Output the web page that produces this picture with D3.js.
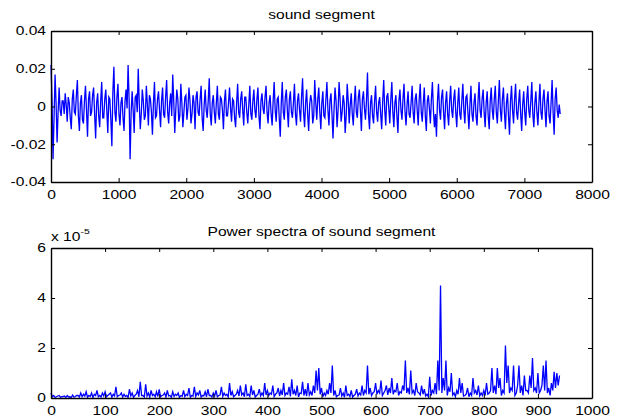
<!DOCTYPE html>
<html>
<head>
<meta charset="utf-8">
<script src="https://cdn.jsdelivr.net/npm/d3@7"></script>
<style>
body { margin: 0; background: #fff; }
svg { display: block; font-family: "Liberation Sans", Arial, sans-serif; }
.axis path { stroke: #000; stroke-width: 1.4; }
.axis line { stroke: #000; }
.axis text { font-size: 12px; fill: #000; }
.title { font-size: 12px; fill: #000; text-anchor: middle; }
</style>
</head>
<body>
<div id="chart-area"></div>
<script>

// sound segment, one value every 15 samples, in units of 1e-3
let soundStep = 15;
let soundSegment = [
	22,4,-28,-6,17,2,-19,-3,10,-2,-5,3,3,-4,7,1,-8,5,2,-6,-12,4,9,-3,-4,6,14,-5,-13,2,6,-7,-9,3,11,-2,-16,4,8,-5,
	-3,6,10,-4,-17,2,7,-5,-11,3,13,-6,-6,4,9,-2,-14,5,4,-7,-21,8,21,-3,-8,5,12,-4,-10,2,5,-6,-13,3,9,-1,22,4,-28,-3,
	8,-2,-14,5,6,-3,20,2,-12,-4,9,3,-7,-5,11,1,-10,6,4,-3,-15,2,13,-6,-5,4,8,-2,-11,3,10,-4,-6,5,14,-3,-9,2,7,-5,
	17,3,-14,-2,9,4,-8,-5,12,2,-11,-3,5,6,-7,-1,10,3,-9,-4,6,2,-12,5,8,-3,-5,4,11,-6,-13,1,9,-2,-6,3,15,-4,-10,2,
	6,-3,-9,2,11,-4,-7,5,4,-2,-12,3,9,-5,-5,2,10,-1,-8,4,3,-6,-11,2,12,-3,-6,4,8,-2,-10,5,5,-3,-9,1,11,-4,-7,3,
	9,-2,-6,4,10,-5,-12,3,7,-1,-4,5,11,-3,-9,2,6,-4,-10,3,13,-2,-8,4,5,-6,-16,2,13,-3,-7,5,9,-2,-11,4,8,-3,-6,2,
	12,-4,-10,3,7,-2,-8,5,15,-3,-11,2,9,-4,-13,1,6,3,-9,-5,14,2,-7,4,10,-3,-12,2,8,-5,-6,4,13,-2,-10,3,7,-4,-17,-2,
	10,3,-11,-2,13,4,-8,-3,6,2,-14,-5,12,3,-9,1,7,-4,-10,2,11,-3,-6,5,9,-2,-13,4,8,-1,-7,3,18,-4,-12,2,6,-5,-9,3,
	11,-3,-8,2,5,-4,-12,3,14,-2,-10,5,7,-1,-9,4,13,-3,-11,2,6,-5,-14,3,9,-2,-7,4,12,-3,-10,1,8,-4,-6,2,11,-3,-9,4,
	7,-2,-10,4,12,-3,-8,2,10,-5,-13,3,6,-1,-9,4,13,-2,-11,-4,-16,3,12,-2,-7,5,9,-3,-12,2,8,-4,-10,3,11,-2,-6,4,9,-3,
	-11,2,10,-4,-7,3,12,-2,-9,5,6,-3,-12,1,11,-4,-8,2,7,-5,-10,3,13,-2,-6,4,9,-3,-11,2,8,-5,-12,3,10,-2,-7,4,11,-3,
	-9,3,14,-2,-8,4,10,-3,-12,2,7,-5,-15,3,11,-2,-9,4,12,-3,-7,2,9,-4,-13,1,8,-3,-10,4,11,-2,-6,3,13,-4,-11,2,8,-3,
	-10,2,12,-3,-7,4,9,-2,-11,3,8,-5,-9,2,14,-3,-15,4,10,-2,-6,1,-4
];

// power spectra, one value every 2.5 bins, in units of 1e-5
let spectrumStep = 2.5;
let powerSpectra = [
	0.2,0.05,0.1,0.02,0.05,0.08,0.1,0.03,0.05,0.06,0.08,0.02,0.1,0.04,0.05,0.02,0.12,0.03,0.06,0.1,0.1,0.04,0.2,0.05,0.15,0.08,0.25,0.03,0.1,0.06,0.2,0.02,0.15,0.1,0.3,0.05,0.1,0.04,0.2,0.08,
	0.25,0.05,0.1,0.15,0.2,0.03,0.15,0.08,0.45,0.05,0.1,0.12,0.2,0.04,0.15,0.06,0.1,0.02,0.35,0.08,0.2,0.03,0.1,0.15,0.3,0.05,0.65,0.1,0.1,0.04,0.55,0.08,0.2,0.03,0.3,0.1,0.15,0.05,0.25,0.06,
	0.35,0.05,0.1,0.12,0.2,0.04,0.3,0.08,0.1,0.03,0.25,0.06,0.15,0.1,0.2,0.02,0.1,0.07,0.3,0.05,0.15,0.1,0.4,0.03,0.1,0.08,0.45,0.06,0.2,0.12,0.3,0.04,0.1,0.09,0.25,0.05,0.35,0.1,0.1,0.04,
	0.2,0.08,0.3,0.05,0.1,0.12,0.45,0.06,0.2,0.1,0.15,0.04,0.6,0.1,0.25,0.05,0.1,0.15,0.3,0.08,0.5,0.12,0.2,0.05,0.55,0.1,0.15,0.06,0.5,0.12,0.3,0.04,0.1,0.15,0.35,0.08,0.2,0.1,0.6,0.12,
	0.3,0.1,0.2,0.15,0.5,0.05,0.15,0.2,0.4,0.08,0.3,0.12,0.6,0.1,0.2,0.15,0.45,0.06,0.75,0.15,0.3,0.1,0.5,0.04,0.2,0.18,0.65,0.1,0.35,0.08,0.6,0.12,0.25,0.1,0.5,0.2,1.1,0.3,1.2,0.15,
	0.4,0.05,0.2,0.1,0.3,0.15,0.6,0.2,1.3,0.1,0.3,0.05,0.1,0.12,0.4,0.08,0.2,0.03,0.5,0.1,0.15,0.06,0.3,0.04,0.1,0.15,0.35,0.08,0.2,0.12,0.5,0.1,0.3,0.2,1.3,0.15,0.4,0.1,0.2,0.25,
	0.6,0.15,0.3,0.2,0.7,0.1,0.2,0.3,0.5,0.12,0.4,0.2,0.8,0.15,0.3,0.25,0.6,0.1,0.25,0.2,0.5,0.3,1.5,0.2,0.4,0.15,1.1,0.2,0.3,0.1,0.6,0.25,0.2,0.12,0.5,0.15,0.35,0.08,0.15,0.05,
	0.85,0.1,0.3,0.2,0.6,0.15,1.5,0.3,4.5,0.2,0.8,0.3,1.5,0.1,0.4,0.25,1.0,0.12,0.2,0.05,0.3,0.15,0.8,0.2,0.6,0.08,0.1,0.15,0.4,0.05,0.2,0.1,0.8,0.2,0.3,0.12,0.5,0.08,0.2,0.1,
	0.3,0.1,0.6,0.15,0.2,0.3,1.2,0.2,0.5,0.15,1.2,0.4,0.8,0.1,0.3,0.2,2.1,0.6,1.3,0.2,0.4,0.3,1.3,0.1,0.2,0.5,1.3,0.2,0.5,0.1,0.9,0.3,0.3,0.2,0.9,0.4,1.6,0.3,0.4,0.2,
	1.0,0.2,0.3,0.5,1.3,0.3,1.5,0.2,0.4,0.1,0.6,0.3,1.05,0.4,1.0,0.5,0.9
];

let soundTicksX = d3.range(0, 8001, 1000);
let soundTicksY = [-0.04, -0.02, 0, 0.02, 0.04];
let spectrumTicksX = d3.range(0, 1001, 100);
let spectrumTicksY = [0, 2, 4, 6];

let lineColor = "#0000ff";
let textStretch = 1.3; // the figure text is wider than Liberation Sans

let svg = d3.select("#chart-area").append("svg")
	.attr("width", 617)
	.attr("height", 419);

// widen text horizontally around its anchor point
function stretch(sel) {
	sel.each(function() {
		let x = +this.getAttribute("x") || 0;
		d3.select(this).attr("transform",
			"translate(" + x + ",0) scale(" + textStretch + ",1) translate(" + (-x) + ",0)");
	});
}

// one MATLAB style subplot
function drawPanel(p) {
	let x = d3.scaleLinear().domain(p.xDomain).range([p.left, p.right]);
	let y = d3.scaleLinear().domain(p.yDomain).range([p.bottom, p.top]);
	let fmt = d => d === 0 ? "0" : String(d);

	svg.append("path")
		.datum(p.values)
		.attr("fill", "none")
		.attr("stroke", lineColor)
		.attr("stroke-width", 1.3)
		.attr("d", d3.line()
			.x((d, i) => x(i * p.step))
			.y(d => y(d * p.scale)));

	svg.append("g")
		.attr("class", "axis")
		.attr("transform", "translate(0," + p.bottom + ")")
		.call(d3.axisBottom(x).tickValues(p.xTicks).tickFormat(fmt)
			.tickSizeInner(-4).tickSizeOuter(0).tickPadding(8))
		.selectAll("text").call(stretch);
	svg.append("g")
		.attr("class", "axis")
		.attr("transform", "translate(" + p.left + ",0)")
		.call(d3.axisLeft(y).tickValues(p.yTicks).tickFormat(fmt)
			.tickSizeInner(-4).tickSizeOuter(0).tickPadding(5))
		.selectAll("text").call(stretch);
	svg.append("g")
		.attr("class", "axis")
		.attr("transform", "translate(0," + p.top + ")")
		.call(d3.axisTop(x).tickValues(p.xTicks).tickFormat("")
			.tickSizeInner(-4).tickSizeOuter(0));
	svg.append("g")
		.attr("class", "axis")
		.attr("transform", "translate(" + p.right + ",0)")
		.call(d3.axisRight(y).tickValues(p.yTicks).tickFormat("")
			.tickSizeInner(-4).tickSizeOuter(0));

	svg.append("text")
		.attr("class", "title")
		.attr("x", (p.left + p.right) / 2)
		.attr("y", p.top - 12)
		.text(p.title)
		.call(stretch);
}

drawPanel({
	left: 51, right: 592, top: 31, bottom: 182,
	xDomain: [0, 8000], yDomain: [-0.04, 0.04],
	xTicks: soundTicksX, yTicks: soundTicksY,
	values: soundSegment, step: soundStep, scale: 0.001,
	title: "sound segment"
});

drawPanel({
	left: 51, right: 592, top: 248, bottom: 398,
	xDomain: [0, 1000], yDomain: [0, 6],
	xTicks: spectrumTicksX, yTicks: spectrumTicksY,
	values: powerSpectra, step: spectrumStep, scale: 1,
	title: "Power spectra of sound segment"
});

// exponent label of the lower y axis
let expo = svg.append("text")
	.attr("x", 51)
	.attr("y", 241)
	.attr("font-size", "12px");
expo.append("tspan").text("x 10");
expo.append("tspan").attr("dy", -7).attr("font-size", "8px").text("-5");
expo.call(stretch);

</script>
</body>
</html>
